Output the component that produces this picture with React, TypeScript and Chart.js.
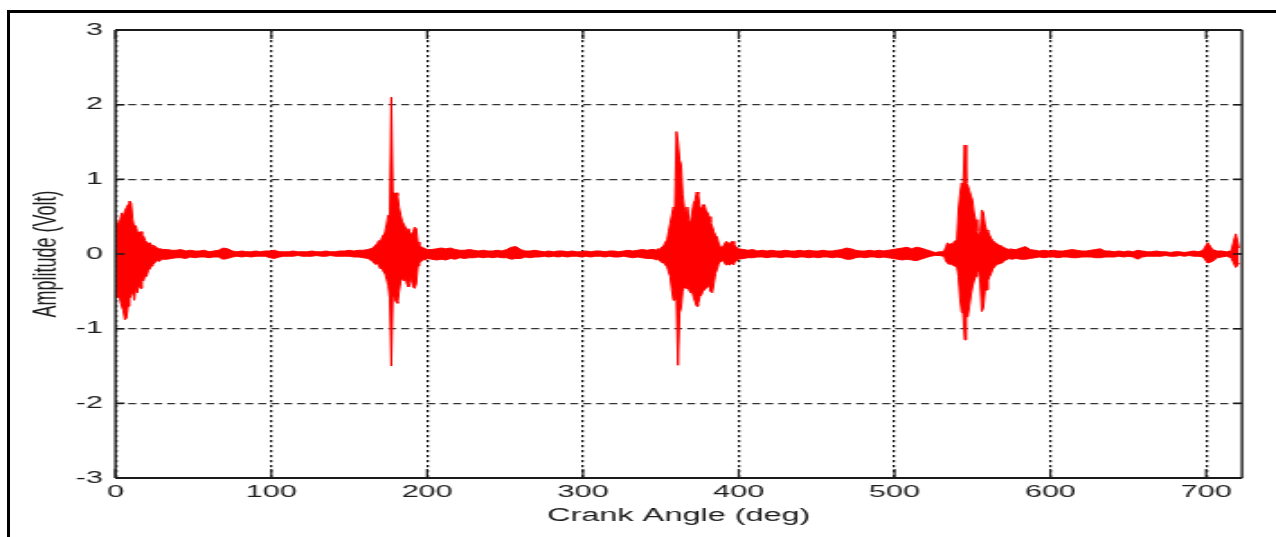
import { useEffect, useRef } from 'react';
import { Chart, registerables } from 'chart.js';

Chart.register(...registerables);

// ---------------- DATA ----------------
// Crank angle samples (deg) and the upper / lower excursion of the vibration signal (Volt)
const crankAngle: number[] = [
  // burst near TDC 0
  0, 1, 2, 3, 4, 5, 6, 7, 8, 9, 10, 11, 12, 13, 14, 15, 16, 17, 18, 19, 20, 21, 22, 23, 24, 25, 26, 27, 28, 29, 30,
  // quiet
  33, 36, 39, 42, 45, 48, 51, 54, 57, 60, 63, 66, 69, 72, 75, 78, 81, 84, 87, 90, 93, 96, 99, 102, 105, 108, 111,
  114, 117, 120, 123, 126, 129, 132, 135, 138, 141, 144, 147, 150, 153, 156, 159, 162, 165,
  // burst near 180
  166, 167, 168, 169, 170, 171, 172, 173, 174, 175, 176, 177, 178, 179, 180, 181, 182, 183, 184, 185, 186, 187,
  188, 189, 190, 191, 192, 193, 194, 195, 196, 197, 198, 199, 200,
  // quiet
  203, 206, 209, 212, 215, 218, 221, 224, 227, 230, 233, 236, 239, 242, 245, 248, 251, 254, 257, 260, 263, 266,
  269, 272, 275, 278, 281, 284, 287, 290, 293, 296, 299, 302, 305, 308, 311, 314, 317, 320, 323, 326, 329, 332,
  335, 338, 341, 344,
  // burst near 360
  346, 347, 348, 349, 350, 351, 352, 353, 354, 355, 356, 357, 358, 359, 360, 361, 362, 363, 364, 365, 366, 367,
  368, 369, 370, 371, 372, 373, 374, 375, 376, 377, 378, 379, 380, 381, 382, 383, 384, 385, 386, 387, 388, 389,
  390, 391, 392, 393, 394, 395, 396, 397, 398, 399, 400,
  // quiet
  403, 406, 409, 412, 415, 418, 421, 424, 427, 430, 433, 436, 439, 442, 445, 448, 451, 454, 457, 460, 463, 466,
  469, 472, 475, 478, 481, 484, 487, 490, 493, 496, 499, 502, 505, 508, 511, 514, 517, 520, 523, 526, 529,
  // burst near 545
  531, 532, 533, 534, 535, 536, 537, 538, 539, 540, 541, 542, 543, 544, 545, 546, 547, 548, 549, 550, 551, 552,
  553, 554, 555, 556, 557, 558, 559, 560, 561, 562, 563, 564, 565, 566, 567, 568, 569, 570, 571, 572, 573, 574, 575,
  // quiet to the end
  578, 581, 584, 587, 590, 593, 596, 599, 602, 605, 608, 611, 614, 617, 620, 623, 626, 629, 632, 635, 638, 641,
  644, 647, 650, 653, 656, 659, 662, 665, 668, 671, 674, 677, 680, 683, 686, 689, 692, 695, 698, 701, 704, 707,
  710, 713, 716, 719, 721,
];

const upperEnvelope: number[] = [
  0.50, 0.42, 0.36, 0.46, 0.55, 0.50, 0.58, 0.62, 0.66, 0.71, 0.68, 0.46, 0.36, 0.38, 0.30, 0.28, 0.30, 0.22, 0.24,
  0.18, 0.16, 0.14, 0.15, 0.12, 0.10, 0.11, 0.09, 0.08, 0.07, 0.07, 0.06,
  0.06, 0.05, 0.05, 0.06, 0.04, 0.05, 0.04, 0.04, 0.05, 0.03, 0.04, 0.05, 0.08, 0.07, 0.04, 0.03, 0.04, 0.03,
  0.03, 0.04, 0.03, 0.04, 0.04, 0.05, 0.03, 0.03, 0.03, 0.04, 0.03, 0.03, 0.03, 0.04, 0.03, 0.03, 0.04, 0.03,
  0.03, 0.04, 0.04, 0.05, 0.04, 0.05, 0.05, 0.06, 0.08,
  0.10, 0.12, 0.14, 0.18, 0.16, 0.22, 0.26, 0.30, 0.40, 0.52, 0.52, 2.10, 0.83, 0.80, 0.82, 0.78, 0.62, 0.52,
  0.44, 0.40, 0.36, 0.30, 0.34, 0.28, 0.26, 0.30, 0.36, 0.34, 0.16, 0.12, 0.10, 0.08, 0.08, 0.07, 0.06,
  0.06, 0.07, 0.08, 0.07, 0.08, 0.06, 0.05, 0.05, 0.06, 0.05, 0.04, 0.05, 0.04, 0.04, 0.05, 0.04, 0.06, 0.09,
  0.10, 0.06, 0.04, 0.04, 0.05, 0.04, 0.03, 0.04, 0.03, 0.04, 0.04, 0.03, 0.04, 0.03, 0.03, 0.04, 0.03, 0.04,
  0.04, 0.03, 0.04, 0.04, 0.03, 0.04, 0.05, 0.04, 0.05, 0.06, 0.05, 0.06,
  0.06, 0.05, 0.07, 0.06, 0.08, 0.10, 0.12, 0.16, 0.19, 0.30, 0.41, 0.52, 0.63, 0.60, 1.64, 1.50, 1.26, 1.20,
  0.80, 0.63, 0.55, 0.63, 0.45, 0.41, 0.55, 0.68, 0.72, 0.83, 0.80, 0.63, 0.60, 0.66, 0.66, 0.58, 0.55, 0.50,
  0.42, 0.37, 0.30, 0.25, 0.23, 0.15, 0.10, 0.08, 0.10, 0.14, 0.17, 0.15, 0.12, 0.16, 0.17, 0.13, 0.10, 0.08, 0.07,
  0.06, 0.05, 0.06, 0.04, 0.05, 0.04, 0.05, 0.04, 0.04, 0.05, 0.04, 0.04, 0.05, 0.04, 0.05, 0.04, 0.04, 0.05,
  0.04, 0.04, 0.05, 0.06, 0.08, 0.07, 0.05, 0.04, 0.04, 0.05, 0.04, 0.05, 0.04, 0.05, 0.06, 0.07, 0.08, 0.09,
  0.07, 0.09, 0.08, 0.06, 0.04, 0.02, 0.03,
  0.03, 0.05, 0.10, 0.15, 0.12, 0.14, 0.13, 0.16, 0.18, 0.19, 0.59, 0.80, 0.95, 0.90, 1.46, 0.95, 0.92, 0.85,
  0.78, 0.72, 0.55, 0.46, 0.30, 0.23, 0.30, 0.59, 0.55, 0.40, 0.32, 0.30, 0.25, 0.21, 0.18, 0.16, 0.15, 0.13,
  0.12, 0.11, 0.10, 0.09, 0.08, 0.07, 0.06, 0.07, 0.06,
  0.06, 0.08, 0.10, 0.06, 0.05, 0.04, 0.05, 0.04, 0.05, 0.04, 0.04, 0.05, 0.06, 0.05, 0.04, 0.04, 0.05, 0.06,
  0.07, 0.04, 0.04, 0.03, 0.04, 0.03, 0.04, 0.03, 0.05, 0.04, 0.03, 0.03, 0.04, 0.03, 0.03, 0.02, 0.03, 0.03,
  0.02, 0.03, 0.04, 0.03, 0.05, 0.15, 0.06, 0.04, 0.04, 0.03, 0.04, 0.27, 0.08,
];

const lowerEnvelope: number[] = [
  -0.55, -0.58, -0.48, -0.62, -0.70, -0.76, -0.88, -0.86, -0.70, -0.60, -0.55, -0.50, -0.62, -0.45, -0.52, -0.40,
  -0.46, -0.34, -0.36, -0.28, -0.30, -0.22, -0.20, -0.16, -0.14, -0.12, -0.10, -0.09, -0.10, -0.08, -0.07,
  -0.07, -0.06, -0.05, -0.05, -0.06, -0.04, -0.05, -0.04, -0.04, -0.05, -0.04, -0.04, -0.07, -0.06, -0.04, -0.03,
  -0.04, -0.03, -0.04, -0.03, -0.03, -0.03, -0.05, -0.06, -0.04, -0.03, -0.03, -0.03, -0.02, -0.03, -0.03, -0.03,
  -0.02, -0.03, -0.03, -0.02, -0.03, -0.03, -0.03, -0.03, -0.04, -0.04, -0.05, -0.06, -0.10,
  -0.10, -0.14, -0.12, -0.16, -0.20, -0.18, -0.24, -0.26, -0.34, -0.42, -0.60, -1.50, -0.55, -0.58, -0.64, -0.66,
  -0.50, -0.36, -0.32, -0.36, -0.30, -0.40, -0.44, -0.30, -0.36, -0.44, -0.46, -0.40, -0.16, -0.12, -0.10, -0.09,
  -0.07, -0.08, -0.06,
  -0.07, -0.08, -0.07, -0.08, -0.06, -0.07, -0.05, -0.06, -0.05, -0.05, -0.04, -0.05, -0.04, -0.05, -0.04, -0.05,
  -0.05, -0.07, -0.06, -0.06, -0.04, -0.05, -0.04, -0.04, -0.03, -0.04, -0.03, -0.04, -0.03, -0.04, -0.03, -0.03,
  -0.04, -0.03, -0.04, -0.03, -0.03, -0.04, -0.03, -0.04, -0.04, -0.03, -0.04, -0.05, -0.04, -0.05, -0.06, -0.06,
  -0.07, -0.08, -0.06, -0.09, -0.10, -0.12, -0.11, -0.15, -0.17, -0.24, -0.30, -0.48, -0.62, -0.55, -0.62, -1.49,
  -0.79, -0.72, -0.50, -0.44, -0.46, -0.40, -0.48, -0.52, -0.50, -0.58, -0.64, -0.70, -0.66, -0.57, -0.55, -0.50,
  -0.48, -0.46, -0.44, -0.42, -0.50, -0.52, -0.40, -0.26, -0.21, -0.14, -0.10, -0.08, -0.09, -0.12, -0.15, -0.13,
  -0.15, -0.12, -0.14, -0.12, -0.10, -0.08, -0.07,
  -0.06, -0.05, -0.05, -0.04, -0.04, -0.05, -0.04, -0.04, -0.05, -0.04, -0.04, -0.05, -0.04, -0.04, -0.05, -0.04,
  -0.05, -0.04, -0.04, -0.05, -0.04, -0.05, -0.07, -0.07, -0.05, -0.04, -0.05, -0.04, -0.04, -0.05, -0.04, -0.05,
  -0.06, -0.07, -0.08, -0.07, -0.08, -0.09, -0.07, -0.05, -0.03, -0.02, -0.02,
  -0.03, -0.04, -0.10, -0.12, -0.14, -0.12, -0.15, -0.13, -0.17, -0.17, -0.30, -0.60, -0.77, -0.80, -1.15, -0.85,
  -0.84, -0.70, -0.55, -0.44, -0.36, -0.30, -0.25, -0.21, -0.40, -0.77, -0.72, -0.50, -0.48, -0.35, -0.30, -0.26,
  -0.20, -0.18, -0.15, -0.14, -0.13, -0.12, -0.12, -0.10, -0.08, -0.08, -0.06, -0.06, -0.07,
  -0.06, -0.07, -0.07, -0.06, -0.05, -0.04, -0.05, -0.04, -0.04, -0.05, -0.04, -0.04, -0.05, -0.05, -0.04, -0.04,
  -0.04, -0.05, -0.05, -0.04, -0.04, -0.04, -0.03, -0.04, -0.03, -0.04, -0.07, -0.04, -0.03, -0.03, -0.03, -0.03,
  -0.02, -0.03, -0.03, -0.02, -0.03, -0.02, -0.03, -0.03, -0.04, -0.12, -0.10, -0.05, -0.04, -0.03, -0.05, -0.18,
  -0.12,
];

const xTickValues: number[] = [0, 100, 200, 300, 400, 500, 600, 700];
const yTickValues: number[] = [-3, -2, -1, 0, 1, 2, 3];
const xMin = 0;
const xMax = 723;
const yMin = -3;
const yMax = 3;
const xTitle = 'Crank Angle (deg)';
const yTitle = 'Amplitude (Volt)';

// ---------------- LAYOUT ----------------
// The reference is horizontally stretched; draw on a narrower canvas and stretch it.
const PAGE_W = 1276;
const W = 709;
const H = 537;
const S = PAGE_W / W;

const FONT = '"Liberation Sans", Arial, Helvetica, sans-serif';
const TEXT = '#1c1c1c';
const RED = '#ff0000';

const framePlugin = {
  id: 'matlabFrame',
  beforeDraw(chart: any) {
    const ctx = chart.ctx;
    ctx.save();
    ctx.fillStyle = '#ffffff';
    ctx.fillRect(0, 0, chart.width, chart.height);
    ctx.restore();
  },
  afterDraw(chart: any) {
    const ctx = chart.ctx;
    const { left, right, top, bottom } = chart.chartArea;
    const xs = chart.scales.x;
    const ys = chart.scales.y;
    ctx.save();
    ctx.setLineDash([]);
    ctx.strokeStyle = '#1a1a1a';
    // inward tick marks
    ctx.lineWidth = 1.2;
    xs.ticks.forEach((t: any) => {
      const px = xs.getPixelForValue(t.value);
      ctx.beginPath();
      ctx.moveTo(px, bottom);
      ctx.lineTo(px, bottom - 9);
      ctx.moveTo(px, top);
      ctx.lineTo(px, top + 9);
      ctx.stroke();
    });
    ctx.lineWidth = 1.5;
    ys.ticks.forEach((t: any) => {
      const py = ys.getPixelForValue(t.value);
      ctx.beginPath();
      ctx.moveTo(left, py);
      ctx.lineTo(left + 9 / S, py);
      ctx.moveTo(right, py);
      ctx.lineTo(right - 9 / S, py);
      ctx.stroke();
    });
    // box
    ctx.lineWidth = 2;
    ctx.beginPath();
    ctx.moveTo(left, top);
    ctx.lineTo(right, top);
    ctx.moveTo(left, bottom);
    ctx.lineTo(right, bottom);
    ctx.stroke();
    ctx.lineWidth = 1.4;
    ctx.beginPath();
    ctx.moveTo(left, top);
    ctx.lineTo(left, bottom);
    ctx.moveTo(right, top);
    ctx.lineTo(right, bottom);
    ctx.stroke();
    ctx.restore();
  },
};

export default function App() {
  const ref = useRef<HTMLCanvasElement>(null);

  useEffect(() => {
    if (!ref.current) return;
    const upperPts = crankAngle.map((a, i) => ({ x: a, y: upperEnvelope[i] }));
    const lowerPts = crankAngle.map((a, i) => ({ x: a, y: lowerEnvelope[i] }));

    const chart = new Chart(ref.current, {
      type: 'line',
      data: {
        datasets: [
          {
            label: 'Vibration (positive excursion)',
            data: upperPts,
            borderColor: RED,
            backgroundColor: RED,
            borderWidth: 1,
            pointRadius: 0,
            tension: 0,
            fill: false,
          },
          {
            label: 'Vibration (negative excursion)',
            data: lowerPts,
            borderColor: RED,
            backgroundColor: RED,
            borderWidth: 1,
            pointRadius: 0,
            tension: 0,
            fill: '-1',
          },
        ],
      },
      options: {
        animation: false,
        responsive: false,
        maintainAspectRatio: false,
        devicePixelRatio: 1,
        events: [],
        layout: { padding: { left: 0, top: 30, right: W - 1242 / S, bottom: 0 } },
        plugins: {
          legend: { display: false },
          tooltip: { enabled: false },
          title: { display: false },
        },
        scales: {
          x: {
            type: 'linear',
            min: xMin,
            max: xMax,
            z: 1,
            afterFit: (scale: any) => {
              scale.height = H - 478;
            },
            afterBuildTicks: (scale: any) => {
              scale.ticks = xTickValues.map((v) => ({ value: v }));
            },
            ticks: {
              includeBounds: false,
              stepSize: 100,
              autoSkip: false,
              maxRotation: 0,
              padding: 4,
              color: TEXT,
              font: { family: FONT, size: 17 },
            },
            grid: {
              drawTicks: false,
              color: '#111111',
              lineWidth: 1.25,
            },
            border: { display: false, dash: [2.2, 2.8] },
            title: {
              display: true,
              text: xTitle,
              color: TEXT,
              font: { family: FONT, size: 18 },
              padding: { top: 0, bottom: 10.5 },
            },
          },
          y: {
            type: 'linear',
            min: yMin,
            max: yMax,
            z: 1,
            afterFit: (scale: any) => {
              scale.width = 115.5 / S;
            },
            afterBuildTicks: (scale: any) => {
              scale.ticks = yTickValues.map((v) => ({ value: v }));
            },
            ticks: {
              stepSize: 1,
              padding: 7,
              color: TEXT,
              font: { family: FONT, size: 17 },
            },
            grid: {
              drawTicks: false,
              color: '#333333',
              lineWidth: 1.3,
            },
            border: { display: false, dash: [8 / S, 5 / S] },
            title: {
              display: true,
              text: yTitle,
              color: TEXT,
              font: { family: FONT, size: 18 },
              padding: { top: 15, bottom: 0 },
            },
          },
        },
      },
      plugins: [framePlugin],
    } as any);

    return () => {
      chart.destroy();
    };
  }, []);

  return (
    <div style={{ position: 'fixed', left: 0, top: 0, width: PAGE_W + 'px', height: H + 'px', overflow: 'hidden', background: '#fff' }}>
      <canvas
        ref={ref}
        width={W}
        height={H}
        style={{
          position: 'absolute',
          left: 0,
          top: 0,
          width: W + 'px',
          height: H + 'px',
          transform: `scaleX(${S})`,
          transformOrigin: '0 0',
        }}
      />
      <div
        style={{
          position: 'absolute',
          left: '7px',
          top: '9.5px',
          width: PAGE_W + 'px',
          height: H + 'px',
          borderLeft: '3px solid #000',
          borderTop: '3px solid #000',
          boxSizing: 'border-box',
          pointerEvents: 'none',
        }}
      />
    </div>
  );
}
